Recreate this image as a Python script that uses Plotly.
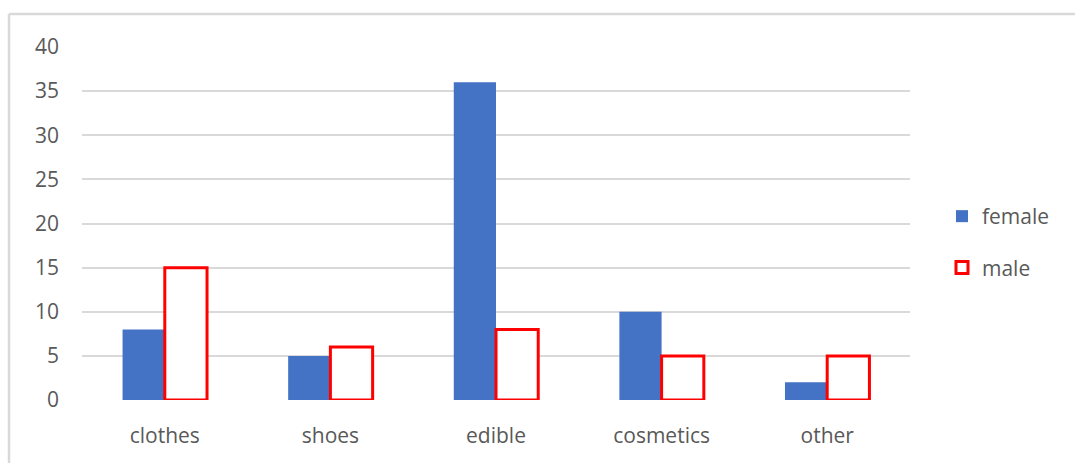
import plotly.graph_objects as go

categories = ["clothes", "shoes", "edible", "cosmetics", "other"]
female = [8, 5, 36, 10, 2]
male = [15, 6, 8, 5, 5]
y_ticks = [0, 5, 10, 15, 20, 25, 30, 35, 40]

L, R, T, B = 82, 165, 47, 63
W, H = 1075, 463
pw, ph = W - L - R, H - T - B

def px_x(x):
    return (x - L) / pw

def px_y(y):
    return (H - B - y) / ph

fig = go.Figure()
fig.add_trace(go.Bar(x=categories, y=female, name="female", legendgroup="f",
                     marker=dict(color="#4472C4", line=dict(width=0))))
fig.add_trace(go.Bar(x=categories, y=male, name="male", legendgroup="m",
                     marker=dict(color="white", line=dict(color="#FF0000", width=3))))

fig.update_layout(
    width=W, height=H,
    margin=dict(l=L, r=R, t=T, b=B),
    paper_bgcolor="white", plot_bgcolor="white",
    barmode="group", bargap=0.49, bargroupgap=0,
    font=dict(family="Open Sans, Noto Sans, sans-serif", color="#595959", size=21),
    legend=dict(x=px_x(942), y=px_y(196), xanchor="left", yanchor="top",
                font=dict(size=21, color="#595959"),
                traceorder="grouped", tracegroupgap=21, itemwidth=30),
    showlegend=True,
)
fig.update_yaxes(range=[0, 40], tickvals=y_ticks, showgrid=True, gridcolor="#d9d9d9",
                 gridwidth=1.5, zeroline=False, showline=False, ticks="",
                 ticklabelstandoff=22, tickfont=dict(size=21, color="#595959"))
fig.update_xaxes(showgrid=False, showline=False, zeroline=False, ticks="",
                 ticklabelstandoff=21, tickfont=dict(size=21, color="#595959"),
                 range=[-0.5, 4.5])

fig.add_shape(type="line", xref="paper", yref="paper",
              x0=px_x(9), x1=px_x(1075), y0=px_y(14), y1=px_y(14),
              line=dict(color="#d9d9d9", width=2.5))
fig.add_shape(type="line", xref="paper", yref="paper",
              x0=px_x(9), x1=px_x(9), y0=px_y(14), y1=px_y(463),
              line=dict(color="#d9d9d9", width=2.5))

fig.write_html("out.html")
